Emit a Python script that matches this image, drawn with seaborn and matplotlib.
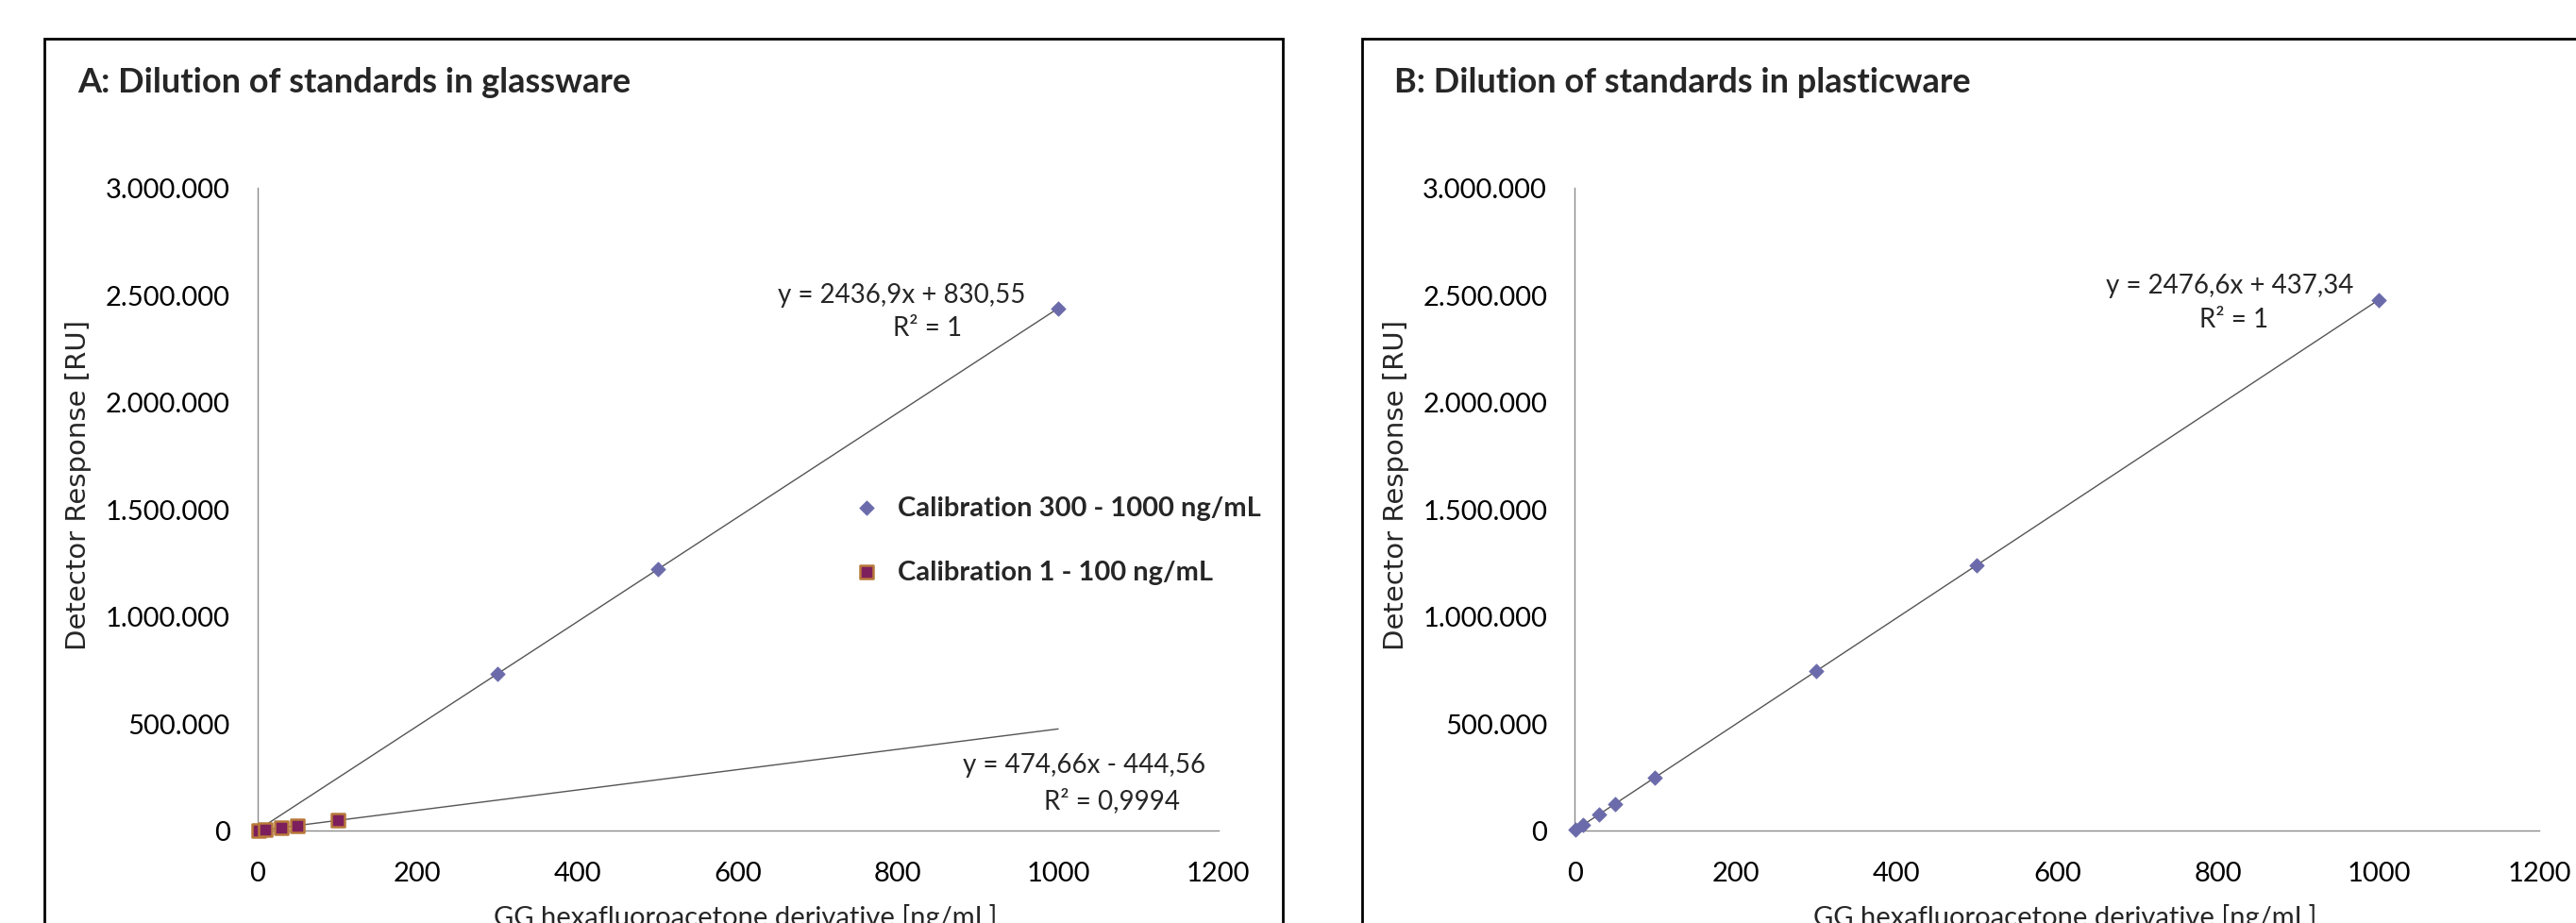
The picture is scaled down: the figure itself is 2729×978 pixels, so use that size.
import numpy as np
import pandas as pd
import matplotlib
matplotlib.use("Agg")
import matplotlib.pyplot as plt
import seaborn as sns
from matplotlib.patches import Rectangle
from matplotlib.ticker import FuncFormatter

# data
conc_glass_high = [300, 500, 1000]
resp_glass_high = [731900, 1219300, 2437700]
conc_glass_low = [1, 10, 30, 50, 100]
resp_glass_low = [300, 4300, 13800, 23300, 47000]
conc_plastic = [1, 10, 30, 50, 100, 300, 500, 1000]
resp_plastic = [2900, 25200, 74700, 124300, 248100, 743400, 1238700, 2477000]

# trendline coefficients (slope, intercept) as printed
fit_glass_high = (2436.9, 830.55)
fit_glass_low = (474.66, -444.56)
fit_plastic = (2476.6, 437.34)
trend_x = np.array([0, 1000])

W, H = 2729, 979
sns.set_theme(style="white")
plt.rcParams["font.family"] = ["Lato", "DejaVu Sans"]

fig = plt.figure(figsize=(W / 100, H / 100), dpi=100)

def px(x0, y0, w, h):
    # pixel box (top-left origin) -> figure fraction
    return [x0 / W, 1 - (y0 + h) / H, w / W, h / H]

def fig_text(x, y, s, **kw):
    fig.text(x / W, 1 - y / H, s, **kw)

blue = "#6b6aaa"
sq_face = "#7d1f5c"
sq_edge = "#b8793a"

def style_axes(ax):
    ax.set_xlim(0, 1200)
    ax.set_ylim(0, 3000000)
    ax.set_xticks([0, 200, 400, 600, 800, 1000, 1200])
    ax.set_yticks([0, 500000, 1000000, 1500000, 2000000, 2500000, 3000000])
    ax.yaxis.set_major_formatter(FuncFormatter(lambda v, p: f"{v:,.0f}".replace(",", ".")))
    for s in ["top", "right"]:
        ax.spines[s].set_visible(False)
    for s in ["left", "bottom"]:
        ax.spines[s].set_color("#8a8a8a")
        ax.spines[s].set_linewidth(1)
    ax.tick_params(axis="x", length=0, pad=23, labelsize=21, colors="black")
    ax.tick_params(axis="y", length=0, pad=21, labelsize=21, colors="black")
    ax.set_xlabel("")
    ax.set_ylabel("")
    ax.grid(False)

# panel frames
fig.patches.append(Rectangle((47 / W, -0.1), (1359 - 47) / W, 1.1 - 42 / H,
                             transform=fig.transFigure, fill=False, lw=2, ec="black"))
fig.patches.append(Rectangle((1443 / W, -0.1), 0.6, 1.1 - 42 / H,
                             transform=fig.transFigure, fill=False, lw=2, ec="black"))

# ---- panel A
axA = fig.add_axes(px(272.7, 200, 1018, 681))
sns.lineplot(x=trend_x, y=fit_glass_high[0] * trend_x + fit_glass_high[1], ax=axA,
             color="#555555", lw=1)
sns.lineplot(x=trend_x, y=fit_glass_low[0] * trend_x + fit_glass_low[1], ax=axA,
             color="#555555", lw=1)
sns.scatterplot(x=conc_glass_high, y=resp_glass_high, ax=axA, marker="D", s=62,
                color=blue, edgecolor=blue, linewidth=0.5, zorder=3,
                label="Calibration 300 - 1000 ng/mL", clip_on=False)
sns.scatterplot(x=conc_glass_low, y=resp_glass_low, ax=axA, marker="s", s=115,
                color=sq_face, edgecolor=sq_edge, linewidth=1.8, zorder=3,
                label="Calibration 1 - 100 ng/mL", clip_on=False)
style_axes(axA)
leg = axA.legend(loc="center left", bbox_to_anchor=(877 / W, 1 - 573 / H),
                 bbox_transform=fig.transFigure, frameon=False, fontsize=21,
                 labelspacing=1.45, handlelength=1.0, handletextpad=0.63)
for t in leg.get_texts():
    t.set_fontweight("bold")

fig_text(82, 87, "A: Dilution of standards in glassware", fontsize=26, fontweight="bold",
         va="center", ha="left")
fig_text(1477, 87, "B: Dilution of standards in plasticware", fontsize=26, fontweight="bold",
         va="center", ha="left")

fig_text(955, 313, "y = 2436,9x + 830,55", fontsize=20, ha="center", va="center")
fig_text(983, 348, "R² = 1", fontsize=20, ha="center", va="center")
fig_text(1149, 811, "y = 474,66x - 444,56", fontsize=20, ha="center", va="center")
fig_text(1178, 849, "R² = 0,9994", fontsize=20, ha="center", va="center")

fig_text(83, 514, "Detector Response [RU]", fontsize=21, rotation=90, ha="center",
         va="center", family="DejaVu Sans")
fig_text(790, 972, "GG hexafluoroacetone derivative [ng/mL]", fontsize=21,
         ha="center", va="center")

# ---- panel B
axB = fig.add_axes(px(1668.3, 200, 1022, 681))
sns.lineplot(x=trend_x, y=fit_plastic[0] * trend_x + fit_plastic[1], ax=axB,
             color="#555555", lw=1)
sns.scatterplot(x=conc_plastic, y=resp_plastic, ax=axB, marker="D", s=62,
                color=blue, edgecolor=blue, linewidth=0.5, zorder=3, clip_on=False)
style_axes(axB)

fig_text(2362, 303, "y = 2476,6x + 437,34", fontsize=20, ha="center", va="center")
fig_text(2367, 339, "R² = 1", fontsize=20, ha="center", va="center")
fig_text(1479, 514, "Detector Response [RU]", fontsize=21, rotation=90, ha="center",
         va="center", family="DejaVu Sans")
fig_text(2188, 972, "GG hexafluoroacetone derivative [ng/mL]", fontsize=21,
         ha="center", va="center")

fig.savefig("out.png", dpi=100)
